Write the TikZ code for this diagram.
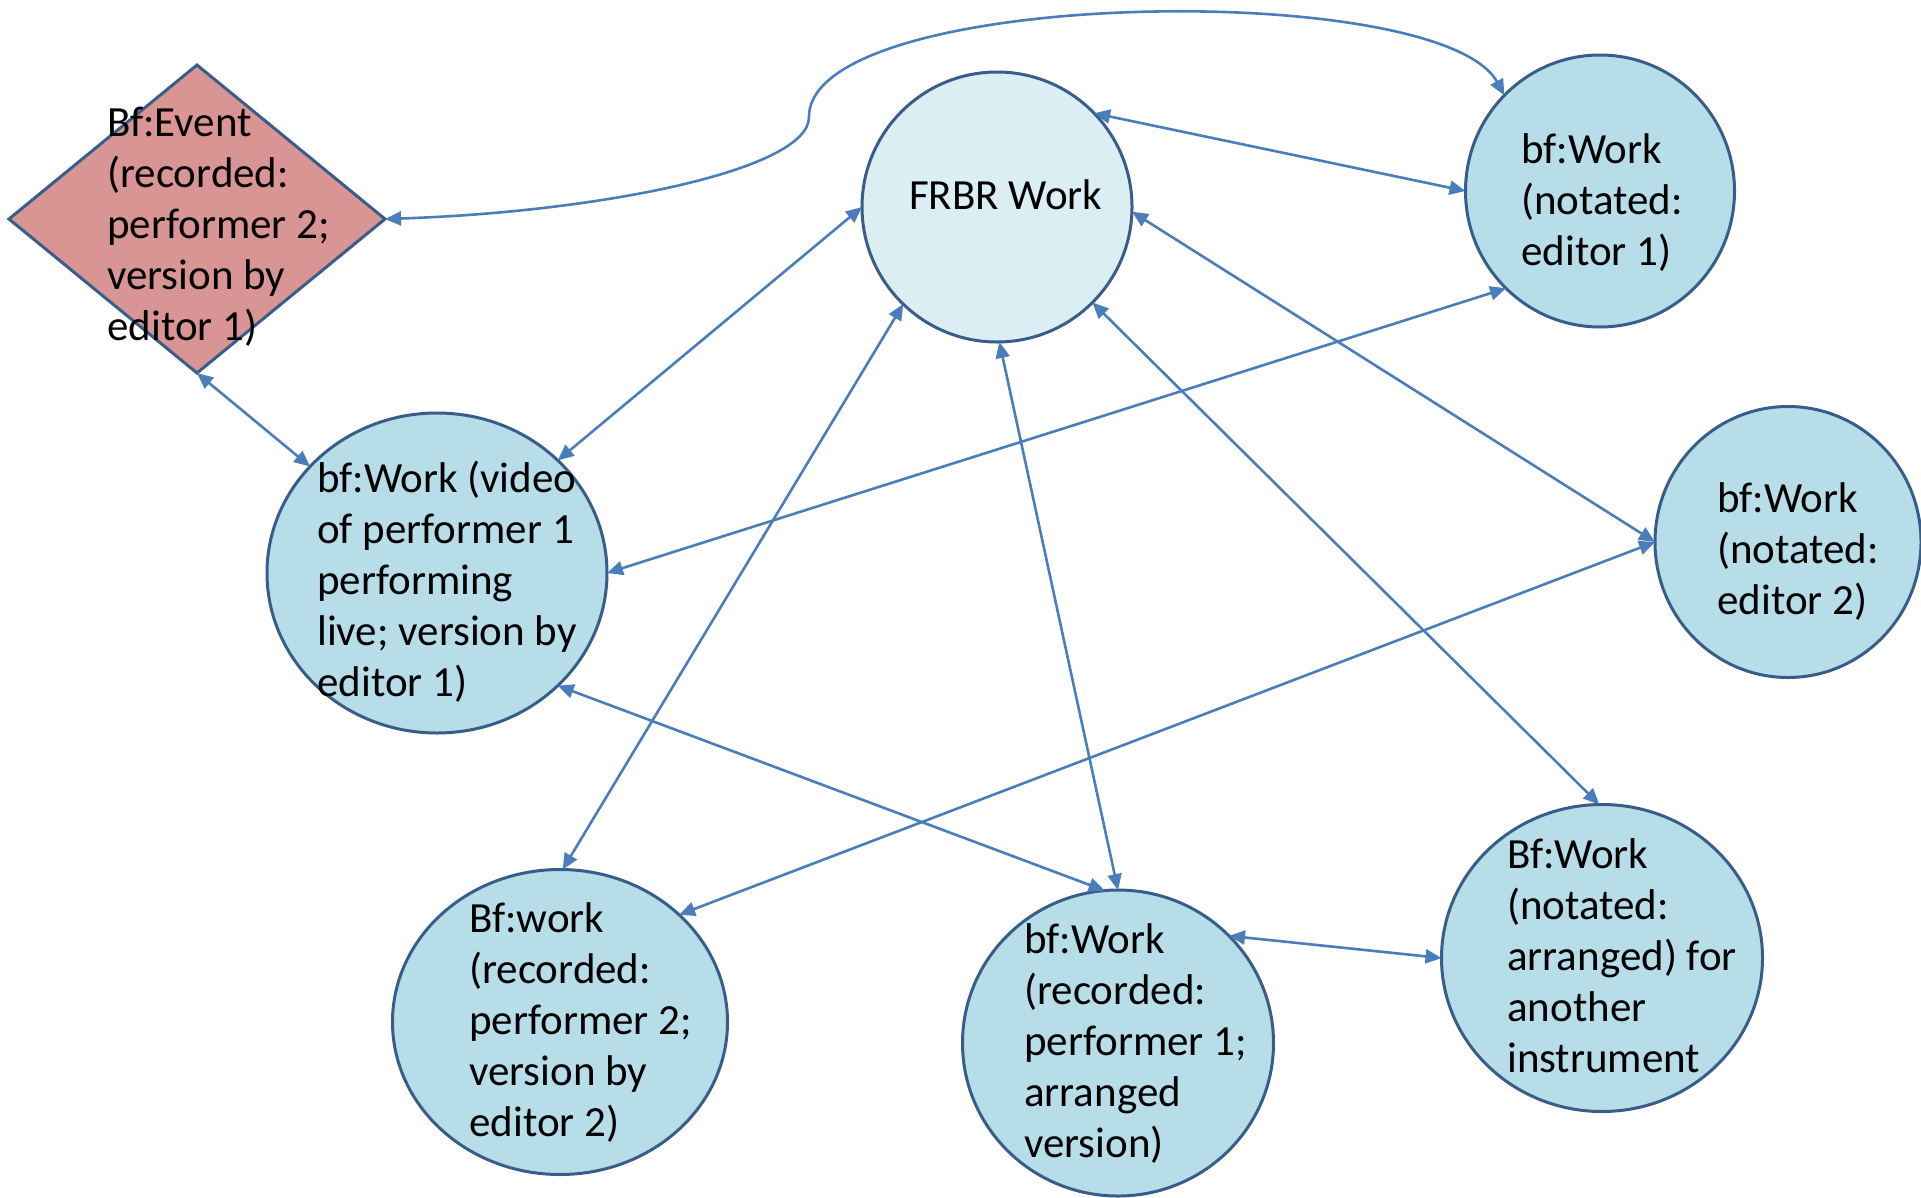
\documentclass[tikz,border=0pt]{standalone}
\usepackage{fontspec}
\setmainfont{Carlito}
\usetikzlibrary{shapes.geometric,arrows.meta}
\definecolor{lineblue}{RGB}{74,126,187}
\definecolor{edgeblue}{RGB}{56,93,138}
\definecolor{paleblue}{RGB}{219,238,243}
\definecolor{midblue}{RGB}{183,221,232}
\definecolor{rose}{RGB}{217,149,148}
\begin{document}
\begin{tikzpicture}[x=1pt,y=-1pt,
  shapebox/.style={ellipse, draw=edgeblue, line width=3pt, fill=midblue, inner sep=0pt, outer sep=0pt},
  txt/.style={anchor=north west, inner sep=0pt, align=left, font=\fontsize{43}{51}\selectfont},
  link/.style={draw=lineblue, line width=2.6pt, {Triangle[length=16pt,width=14pt]}-{Triangle[length=16pt,width=14pt]}}]
\useasboundingbox (0,0) rectangle (1921,1197);
% shapes
\node[diamond, draw=edgeblue, line width=3pt, fill=rose, minimum width=376pt, minimum height=308pt, inner sep=0pt, outer sep=0pt] (ev) at (197,219) {};
\node[shapebox, fill=paleblue, minimum width=270pt, minimum height=270pt] (frbr) at (997,207) {};
\node[shapebox, minimum width=269pt, minimum height=272pt] (ne1) at (1600,191) {};
\node[shapebox, minimum width=266pt, minimum height=271pt] (ne2) at (1788,542) {};
\node[shapebox, minimum width=340pt, minimum height=320pt] (vid) at (437,573) {};
\node[shapebox, minimum width=321pt, minimum height=307pt] (arr) at (1602,958) {};
\node[shapebox, minimum width=311pt, minimum height=306pt] (rp1) at (1118,1043) {};
\node[shapebox, minimum width=335pt, minimum height=305pt] (rp2) at (560,1022) {};
% connectors
\coordinate (bend) at (809,117);
\draw[link] (ev.east) .. controls (600,212) and (809,170) .. (bend) .. controls (809,-12) and (1440,-22) .. (ne1.135);
\draw[link] (frbr.44) -- (ne1.180);
\draw[link] (frbr.180) -- (vid.43);
\draw[link] (ne1.226) -- (vid.0);
\draw[link] (frbr.-2) -- (ne2.180);
\draw[link] (ev.south) -- (vid.140);
\draw[link] (frbr.226) -- (rp2.89);
\draw[link] (frbr.271) -- (rp1.90);
\draw[link] (frbr.315) -- (arr.91);
\draw[link] (ne2.180) -- (rp2.42);
\draw[link] (vid.317) -- (rp1.95);
\draw[link] (rp1.44) -- (arr.180);
% texts
\node[txt] (ev-t) at (107,100.3) {\strut Bf:Event\\(recorded:\\performer 2;\\version by\\editor 1)};
\node[txt] (frbr-t) at (909,173.3) {\strut FRBR Work};
\node[txt] (ne1-t) at (1521,127.3) {\strut bf:Work\\(notated:\\editor 1)};
\node[txt] (ne2-t) at (1717,476.3) {\strut bf:Work\\(notated:\\editor 2)};
\node[txt] (vid-t) at (317,456.3) {\strut bf:Work (video\\of performer 1\\performing\\live; version by\\editor 1)};
\node[txt] (arr-t) at (1507,832.3) {\strut Bf:Work\\(notated:\\arranged) for\\another\\instrument};
\node[txt] (rp1-t) at (1024,917.3) {\strut bf:Work\\(recorded:\\performer 1;\\arranged\\version)};
\node[txt] (rp2-t) at (469,896.3) {\strut Bf:work\\(recorded:\\performer 2;\\version by\\editor 2)};
\end{tikzpicture}
\end{document}
